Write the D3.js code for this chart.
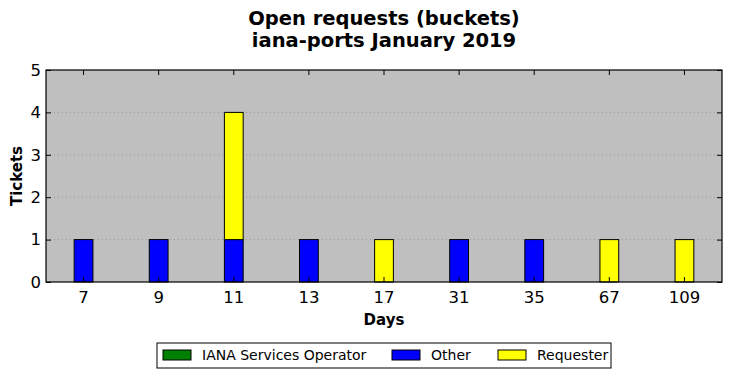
<!DOCTYPE html>
<html>
<head>
<meta charset="utf-8">
<script src="https://cdn.jsdelivr.net/npm/d3@7"></script>
<style>
  body { margin: 0; background: #fff; }
  text { font-family: "DejaVu Sans", sans-serif; }
</style>
</head>
<body>
<div id="chart"></div>
<script>
// data
const days = ["7", "9", "11", "13", "17", "31", "35", "67", "109"];
const ianaOperator = [0, 0, 0, 0, 0, 0, 0, 0, 0];
const other = [1, 1, 1, 1, 0, 1, 1, 0, 0];
const requester = [0, 0, 3, 0, 1, 0, 0, 1, 1];
const yTicks = [0, 1, 2, 3, 4, 5];
const seriesNames = ["IANA Services Operator", "Other", "Requester"];
const seriesColors = ["#008000", "#0000ff", "#ffff00"];

const W = 732, H = 378;
const margin = {top: 70, right: 10, bottom: 96, left: 46};
const width = W - margin.left - margin.right;
const height = H - margin.top - margin.bottom;

const svg = d3.select("#chart").append("svg")
    .attr("width", W)
    .attr("height", H);

const g = svg.append("g")
    .attr("transform", `translate(${margin.left},${margin.top})`);

const x = d3.scaleBand().domain(days).range([0, width]);
const y = d3.scaleLinear().domain([0, 5]).range([height, 0]);

g.append("rect")
    .attr("width", width).attr("height", height)
    .attr("fill", "#bfbfbf");

// dotted grid
g.selectAll(".grid").data(yTicks.slice(1, -1)).enter().append("line")
    .attr("x1", 0).attr("x2", width)
    .attr("y1", d => y(d)).attr("y2", d => y(d))
    .attr("stroke", "#8c8c8c").attr("stroke-width", 0.8)
    .attr("stroke-dasharray", "1,3");

// stacked bars
const rows = days.map((d, i) => ({day: d, s0: ianaOperator[i], s1: other[i], s2: requester[i]}));
const stack = d3.stack().keys(["s0", "s1", "s2"])(rows);
const barW = x.step() * 0.25;

stack.forEach((layer, k) => {
    g.selectAll(".bar" + k).data(layer.filter(d => d[1] > d[0])).enter().append("rect")
        .attr("x", d => x(d.data.day) + x.bandwidth() / 2 - barW / 2)
        .attr("y", d => y(d[1]))
        .attr("width", barW)
        .attr("height", d => y(d[0]) - y(d[1]))
        .attr("fill", seriesColors[k])
        .attr("stroke", "#000").attr("stroke-width", 1);
});

// axes with inward ticks
const xAxis = g.append("g").attr("transform", `translate(0,${height})`)
    .call(d3.axisBottom(x).tickSizeInner(-5).tickSizeOuter(0).tickPadding(9));
const xTop = g.append("g")
    .call(d3.axisTop(x).tickSizeInner(-5).tickSizeOuter(0).tickFormat(""));
const yAxis = g.append("g")
    .call(d3.axisLeft(y).tickValues(yTicks).tickFormat(d3.format("d"))
        .tickSizeInner(-5).tickSizeOuter(0).tickPadding(5));
const yRight = g.append("g").attr("transform", `translate(${width},0)`)
    .call(d3.axisRight(y).tickValues(yTicks).tickSizeInner(-5).tickSizeOuter(0).tickFormat(""));

[xAxis, xTop, yAxis, yRight].forEach(a => {
    a.select(".domain").remove();
    a.selectAll("line").attr("stroke", "#000");
    a.selectAll("text").style("font-size", "16.5px").attr("fill", "#000");
});

g.append("rect")
    .attr("width", width).attr("height", height)
    .attr("fill", "none").attr("stroke", "#000").attr("stroke-width", 1.2);

// titles
svg.append("text").attr("x", margin.left + width / 2).attr("y", 25)
    .attr("text-anchor", "middle").style("font-size", "19.5px").style("font-weight", "bold")
    .text("Open requests (buckets)");
svg.append("text").attr("x", margin.left + width / 2).attr("y", 47)
    .attr("text-anchor", "middle").style("font-size", "19.5px").style("font-weight", "bold")
    .text("iana-ports January 2019");

svg.append("text").attr("x", margin.left + width / 2).attr("y", 325)
    .attr("text-anchor", "middle").style("font-size", "15px").style("font-weight", "bold")
    .text("Days");
svg.append("text")
    .attr("transform", `translate(22,${margin.top + height / 2}) rotate(-90)`)
    .attr("text-anchor", "middle").style("font-size", "15px").style("font-weight", "bold")
    .text("Tickets");

// legend
const legend = svg.append("g").attr("transform", "translate(157,343)");
legend.append("rect").attr("width", 454).attr("height", 25)
    .attr("fill", "#fff").attr("stroke", "#000").attr("stroke-width", 1);
const legendX = [6, 235, 341];
seriesNames.forEach((name, i) => {
    const item = legend.append("g").attr("transform", `translate(${legendX[i]},7)`);
    item.append("rect").attr("width", 28).attr("height", 10)
        .attr("fill", seriesColors[i]).attr("stroke", "#000").attr("stroke-width", 1);
    item.append("text").attr("x", 39).attr("y", 10)
        .style("font-size", "14px").text(name);
});
</script>
</body>
</html>
